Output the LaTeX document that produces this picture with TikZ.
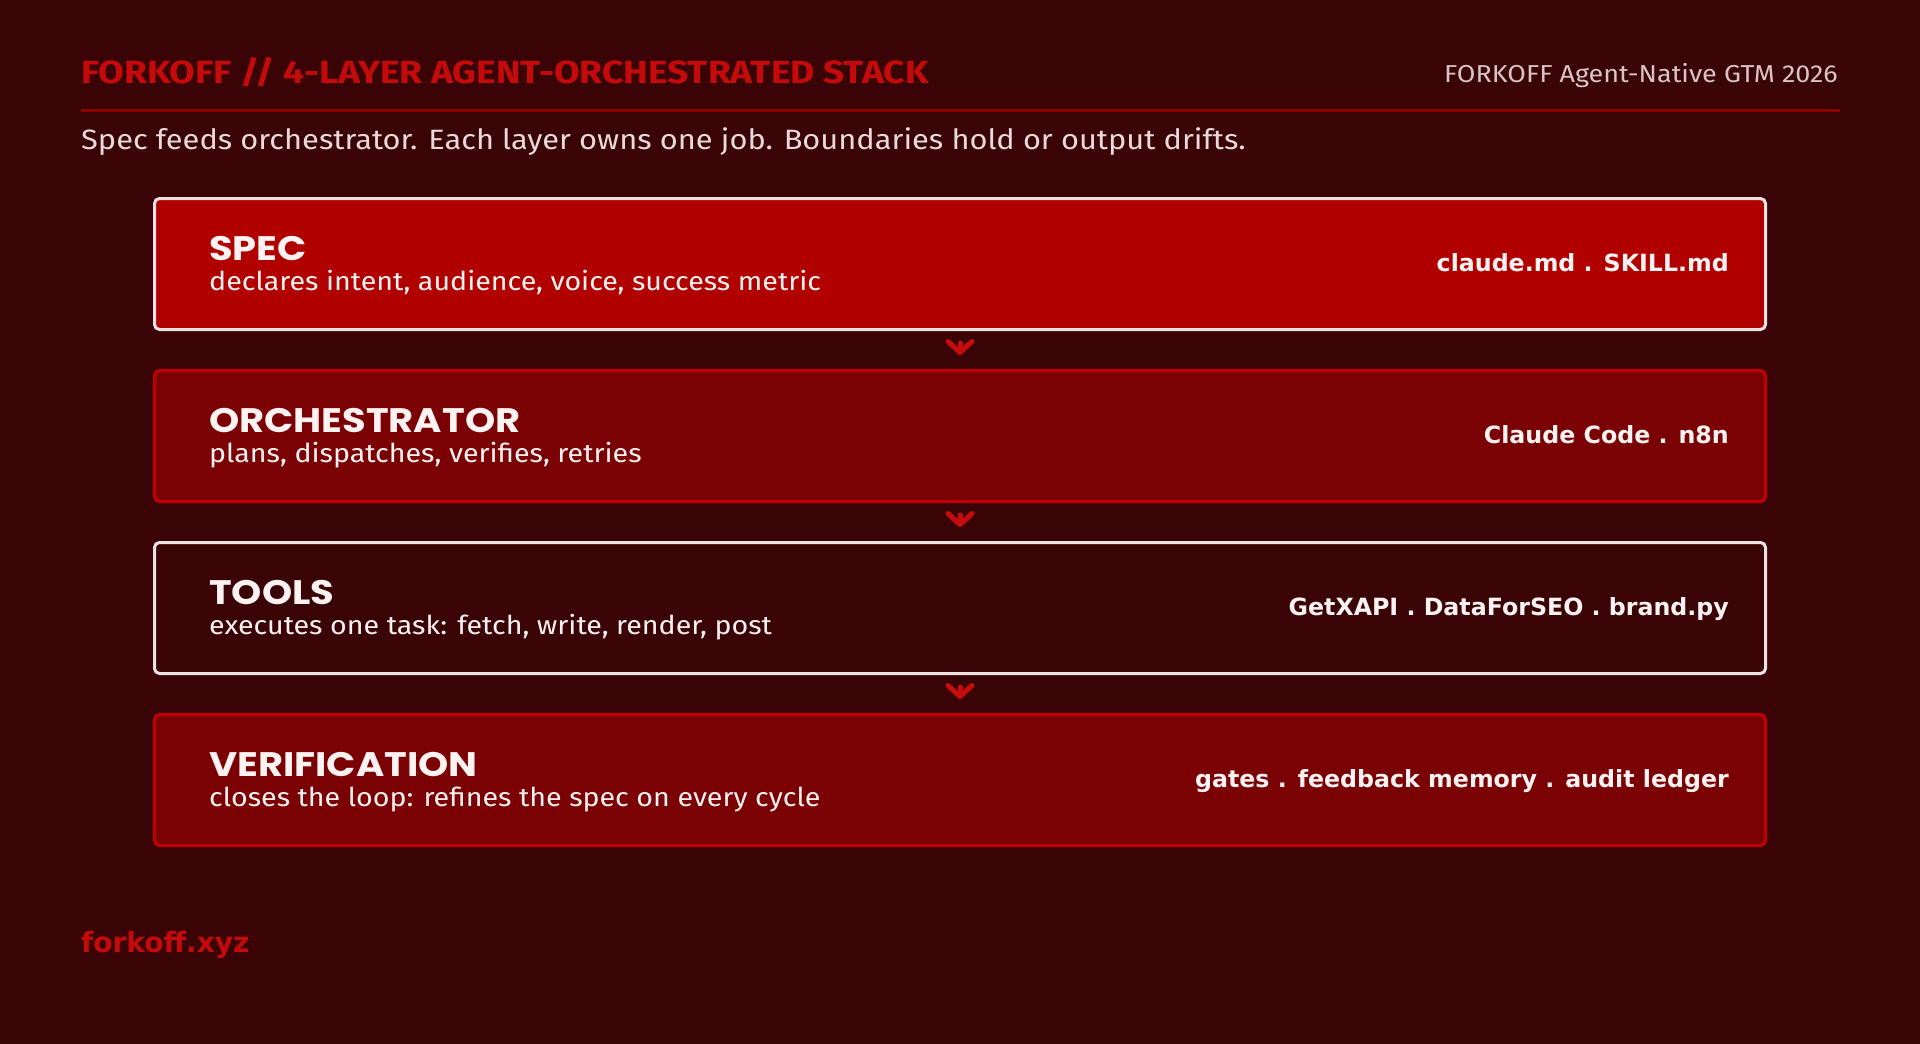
\documentclass[tikz,border=0pt]{standalone}
\usepackage{fontspec}
\usetikzlibrary{arrows.meta}
\setmainfont{Fira Sans}
\newfontfamily\titlefont[FakeStretch=1.16]{Fira Sans}
\newfontfamily\headfont[FakeStretch=1.1]{Fira Sans}
\newfontfamily\boxfont[FakeStretch=1.13]{Poppins}
\newfontfamily\labfont{DejaVu Sans}
\definecolor{bg}{RGB}{58,3,6}
\definecolor{brightred}{RGB}{176,0,0}
\definecolor{darkred}{RGB}{122,2,5}
\definecolor{titlered}{RGB}{196,10,10}
\definecolor{rulered}{RGB}{140,0,0}
\definecolor{edgewhite}{RGB}{236,226,226}
\definecolor{edgered}{RGB}{192,0,0}
\definecolor{softtext}{RGB}{216,196,196}
\definecolor{subtext}{RGB}{232,218,218}
\definecolor{whitetext}{RGB}{252,242,242}
\definecolor{chevred}{RGB}{200,12,12}
\tikzset{
  layerbox/.style={rectangle, rounded corners=5pt, line width=3pt, minimum width=1611pt, minimum height=131pt, inner sep=0pt},
  layerA/.style={layerbox, draw=edgewhite, fill=brightred},
  layerB/.style={layerbox, draw=edgered, fill=darkred},
  layerC/.style={layerbox, draw=edgewhite, fill=bg},
  layername/.style={anchor=base west, inner sep=0pt, text=whitetext, font=\boxfont\bfseries\fontsize{34}{40}\selectfont},
  layerdesc/.style={anchor=base west, inner sep=0pt, text=whitetext, font=\headfont\fontsize{26}{30}\selectfont},
  layerlab/.style={anchor=base east, inner sep=0pt, text=whitetext, font=\labfont\bfseries\fontsize{23.7}{28}\selectfont},
  chev/.style={draw=chevred, line width=5pt, line cap=round, shorten <=12pt, shorten >=14pt,
    -{Straight Barb[length=11pt, width=24pt, round]}},
}
\begin{document}
\begin{tikzpicture}[x=1pt, y=-1pt]
\useasboundingbox (0,0) rectangle (1920,1044);
\fill[bg] (0,0) rectangle (1920,1044);
% header
\node[anchor=base west, inner sep=0pt, text=titlered, font=\titlefont\bfseries\fontsize{32}{38}\selectfont] (title) at (81,83) {FORKOFF // 4-LAYER AGENT-ORCHESTRATED STACK};
\node[anchor=base east, inner sep=0pt, text=softtext, font=\headfont\fontsize{24.5}{30}\selectfont] (brand) at (1838,82) {FORKOFF Agent-Native GTM 2026};
\coordinate (ruleL) at (81,110);
\coordinate (ruleR) at (1840,110);
\draw[rulered, line width=3pt] (ruleL) -- (ruleR);
\node[anchor=base west, inner sep=0pt, text=subtext, font=\headfont\fontsize{28}{32}\selectfont] (sub) at (81,149) {Spec feeds orchestrator. Each layer owns one job. Boundaries hold or output drifts.};
% layers
\node[layerA] (spec) at (960,264) {};
\node[layerB] (orch) at (960,436) {};
\node[layerC] (tools) at (960,608) {};
\node[layerB] (verif) at (960,780) {};
\node[layername] (specT) at (209,260) {SPEC};
\node[layerdesc] (specD) at (209,290) {declares intent, audience, voice, success metric};
\node[layerlab] (specL) at (1729,271) {claude.md . SKILL.md};
\node[layername] (orchT) at (209,432) {ORCHESTRATOR};
\node[layerdesc] (orchD) at (209,462) {plans, dispatches, verifies, retries};
\node[layerlab] (orchL) at (1729,443) {Claude Code . n8n};
\node[layername] (toolsT) at (209,604) {TOOLS};
\node[layerdesc] (toolsD) at (209,634) {executes one task: fetch, write, render, post};
\node[layerlab] (toolsL) at (1729,615) {GetXAPI . DataForSEO . brand.py};
\node[layername] (verifT) at (209,776) {VERIFICATION};
\node[layerdesc] (verifD) at (209,806) {closes the loop: refines the spec on every cycle};
\node[layerlab] (verifL) at (1729,787) {gates . feedback memory . audit ledger};
% connectors
\draw[chev] (spec.south) -- (orch.north);
\draw[chev] (orch.south) -- (tools.north);
\draw[chev] (tools.south) -- (verif.north);
% footer
\node[anchor=base west, inner sep=0pt, text=titlered, font=\labfont\bfseries\fontsize{28}{32}\selectfont] (foot) at (81,952) {forkoff.xyz};
\end{tikzpicture}
\end{document}
